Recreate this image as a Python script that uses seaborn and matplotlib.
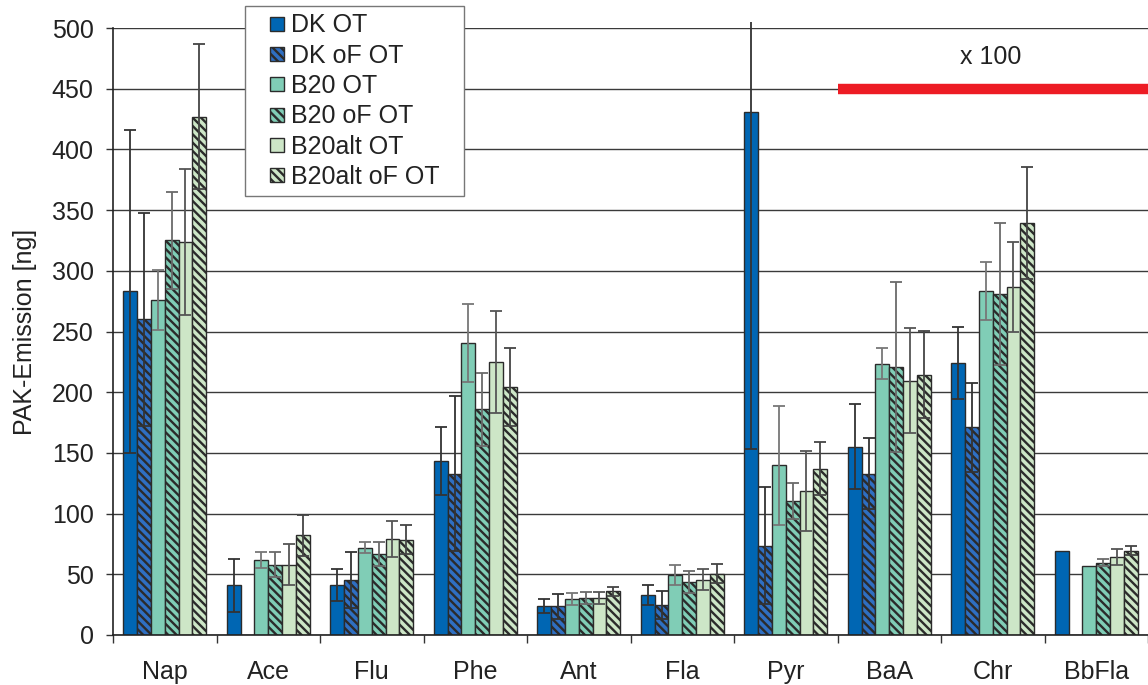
import numpy as np
import pandas as pd
import matplotlib.pyplot as plt
import seaborn as sns
from matplotlib.patches import Patch, Rectangle
from matplotlib.legend_handler import HandlerPatch

sns.set_style("white")
plt.rcParams['font.family'] = ['Liberation Sans', 'DejaVu Sans']
plt.rcParams['hatch.linewidth'] = 1.7

# PAK-Emissionen, Mittelwert und Streuung je Stoff
categories = ["Nap", "Ace", "Flu", "Phe", "Ant", "Fla", "Pyr", "BaA", "Chr", "BbFla"]
series = ["DK OT", "DK oF OT", "B20 OT", "B20 oF OT", "B20alt OT", "B20alt oF OT"]

dk_ot      = [283, 41, 41, 143, 24, 33, 431, 155, 224, 69]
dk_ot_err  = [133, 22, 13, 28, 6, 8, 278, 35, 30, 0]
dk_of      = [260, 0, 45, 133, 23.5, 24.5, 73.5, 133, 171, 0]
dk_of_err  = [88, 0, 23, 64, 10.5, 11.5, 48, 29, 36.5, 0]
b20_ot     = [276, 62, 72, 240.5, 30, 49.5, 140, 223.5, 283.5, 57]
b20_ot_err = [25, 6.5, 4.5, 32, 5, 8, 49, 12.5, 24, 0]
b20_of     = [325, 58, 67, 186, 30.5, 43.5, 110.5, 221, 280.5, 59.5]
b20_of_err = [40, 10, 10, 30, 5, 9, 15, 70, 58.5, 3]
alt_ot     = [324, 58, 79, 225, 30.5, 45.5, 118.5, 209.5, 286.5, 64.5]
alt_ot_err = [60, 17, 15, 42, 5, 8.5, 33, 43, 37, 6.5]
alt_of     = [427, 82, 78.5, 204.5, 36, 50.5, 137, 214.5, 339.5, 69.5]
alt_of_err = [60, 17, 12, 32, 3.5, 8, 22, 36, 46, 3.5]

values = [dk_ot, dk_of, b20_ot, b20_of, alt_ot, alt_of]
errors = [dk_ot_err, dk_of_err, b20_ot_err, b20_of_err, alt_ot_err, alt_of_err]

faces = ["#0066b3", "#2f6fc2", "#80cdb6", "#80cdb6", "#cde6c7", "#cde6c7"]
hatches = [None, "\\\\\\\\", None, "\\\\\\\\", None, "\\\\\\\\"]
err_colors = ["#333333", "#333333", "#777777", "#6a6a6a", "#555555", "#444444"]

df = pd.DataFrame({
    "Stoff": np.tile(categories, len(series)),
    "Serie": np.repeat(series, len(categories)),
    "Wert": np.concatenate(values),
})

fig = plt.figure(figsize=(11.48, 6.85), dpi=100)
ax = fig.add_axes([113 / 1148, 50 / 685, 1035 / 1148, 607 / 685])

sns.barplot(data=df, x="Stoff", y="Wert", hue="Serie", order=categories,
            hue_order=series, palette=faces, saturation=1, errorbar=None,
            width=0.8, gap=0, edgecolor="#2b2b2b", linewidth=1,
            legend=False, ax=ax)

# clip error bars slightly above the plot area (like the original)
clip_rect = Rectangle((-0.5, 0), 11, 505, transform=ax.transData)

bar_conts = list(ax.containers)
for i, cont in enumerate(bar_conts):
    xs, ys, es = [], [], []
    for bar, err in zip(cont, errors[i]):
        if hatches[i]:
            bar.set_hatch(hatches[i])
        if err > 0:
            xs.append(bar.get_x() + bar.get_width() / 2)
            ys.append(bar.get_height())
            es.append(err)
    eb = ax.errorbar(xs, ys, yerr=es, fmt="none", ecolor=err_colors[i],
                     elinewidth=1.3, capsize=4.5, capthick=1.3, zorder=3)
    for art in list(eb.lines[1]) + list(eb.lines[2]):
        art.set_clip_on(True)
        art.set_clip_path(clip_rect)

ax.set_xlim(-0.5, -0.5 + 1035 / 104)
ax.set_ylim(0, 500)
ax.set_yticks(np.arange(0, 501, 50))
ax.set_xticks(np.arange(-0.5, 10, 1), minor=True)

ax.yaxis.grid(True, color="#3a3a3a", linewidth=1)
ax.set_axisbelow(True)
for s in ["top", "right"]:
    ax.spines[s].set_visible(False)
for s in ["left", "bottom"]:
    ax.spines[s].set_color("#222222")
    ax.spines[s].set_linewidth(1.2)

ax.tick_params(axis="x", which="major", length=0, pad=18, labelsize=18,
               labelcolor="#222222")
ax.tick_params(axis="x", which="minor", length=6, width=1, color="#333333",
               direction="out", bottom=True)
ax.tick_params(axis="y", length=5, width=1, color="#333333", direction="out",
               pad=9, labelsize=18, labelcolor="#222222", left=True)

ax.set_xlabel("")
ax.set_ylabel("PAK-Emission [ng]", fontsize=18, color="#222222")
ax.yaxis.set_label_coords(-0.073, 0.5)

# Markierung "x 100"
ax.plot([6.5, 9.6], [450, 450], color="#ed1c24", linewidth=7.5,
        solid_capstyle="butt", zorder=4)
ax.text(7.98, 476, "x 100", ha="center", va="center", fontsize=18,
        color="#222222")


def square(legend, orig_handle, xdescent, ydescent, width, height, fontsize):
    s = 0.56 * fontsize
    return Rectangle((-xdescent + width - s, -ydescent + (height - s) / 2), s, s)


handles = [Patch(facecolor=faces[i], edgecolor="#2b2b2b", hatch=hatches[i],
                 linewidth=1) for i in range(len(series))]
leg = fig.legend(handles, series, loc="upper left",
                 bbox_to_anchor=(245 / 1148, 1 - 192 / 685, 219 / 1148, 186 / 685),
                 bbox_transform=fig.transFigure, mode="expand", fontsize=18,
                 frameon=True, fancybox=False, edgecolor="#777777",
                 framealpha=1, borderpad=0.3, labelspacing=0.25,
                 handlelength=1.24, handletextpad=0.3, borderaxespad=0,
                 handler_map={Patch: HandlerPatch(patch_func=square)})
leg.get_frame().set_linewidth(1)
for t in leg.get_texts():
    t.set_color("#222222")

plt.savefig("out.png", dpi=100)
